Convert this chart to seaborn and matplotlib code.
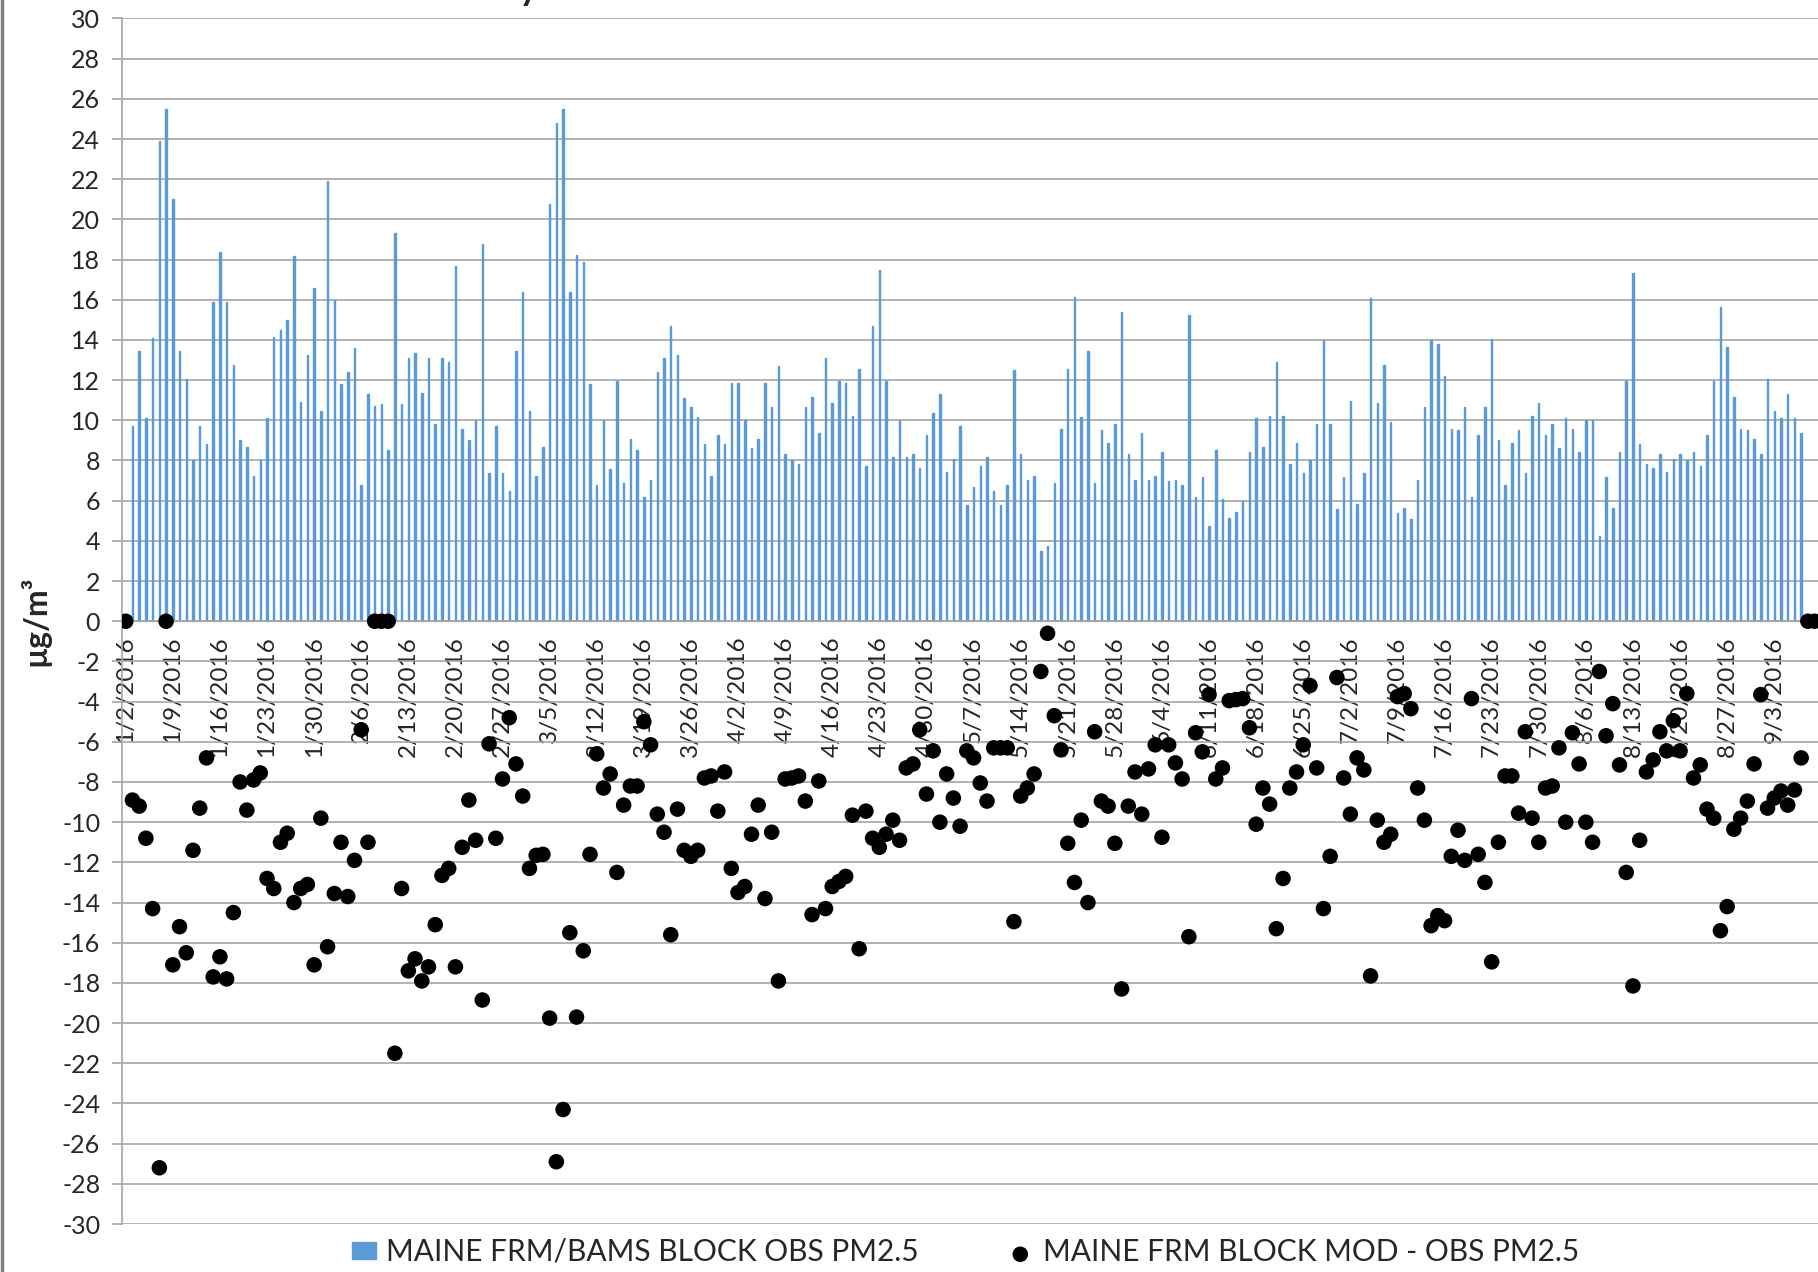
import numpy as np
import pandas as pd
import seaborn as sns
import matplotlib.pyplot as plt
from matplotlib.lines import Line2D

# daily values, day 0 = 1/2/2016
obs_pm25 = [
    np.nan, 9.7, 13.45, 10.1, 14.1, 23.9, 25.5, 21.0, 13.45, 12.05,
    8.0, 9.7, 8.8, 15.9, 18.4, 15.9, 12.75, 9.0, 8.65, 7.25,
    8.0, 10.1, 14.15, 14.5, 15.0, 18.2, 10.9, 13.25, 16.6, 10.45,
    21.9, 16.0, 11.8, 12.4, 13.6, 6.8, 11.3, 10.7, 10.8, 8.5,
    19.3, 10.8, 13.1, 13.35, 11.35, 13.1, 9.8, 13.1, 12.9, 17.7,
    9.55, 9.0, 10.0, 18.75, 7.4, 9.7, 7.4, 6.5, 13.45, 16.4,
    10.45, 7.25, 8.65, 20.75, 24.8, 25.5, 16.4, 18.25, 17.9, 11.8,
    6.8, 10.0, 7.6, 11.95, 6.9, 9.05, 8.5, 6.2, 7.05, 12.4,
    13.1, 14.7, 13.25, 11.1, 10.65, 10.15, 8.8, 7.25, 9.25, 8.8,
    11.85, 11.85, 10.0, 8.6, 9.05, 11.85, 10.65, 12.7, 8.3, 8.0,
    7.85, 10.65, 11.15, 9.35, 13.1, 10.85, 11.95, 11.85, 10.2, 12.55,
    7.75, 14.7, 17.5, 11.95, 8.15, 10.0, 8.15, 8.3, 7.65, 9.25,
    10.35, 11.3, 7.45, 8.05, 9.7, 5.8, 6.7, 7.75, 8.15, 6.5,
    5.8, 6.8, 12.5, 8.3, 7.05, 7.25, 3.5, 3.75, 6.9, 9.55,
    12.55, 16.15, 10.15, 13.45, 6.9, 9.5, 8.85, 9.8, 15.4, 8.3,
    7.05, 9.35, 7.05, 7.25, 8.4, 7.0, 7.05, 6.8, 15.25, 6.2,
    7.2, 4.75, 8.5, 6.1, 5.15, 5.45, 6.0, 8.4, 10.1, 8.65,
    10.2, 12.9, 10.2, 7.85, 8.85, 7.4, 8.0, 9.8, 14.0, 9.8,
    5.6, 7.2, 10.95, 5.85, 7.4, 16.1, 10.85, 12.75, 9.9, 5.4,
    5.65, 5.1, 7.05, 10.65, 14.0, 13.8, 12.2, 9.55, 9.5, 10.65,
    6.2, 9.25, 10.65, 14.05, 9.0, 6.8, 8.85, 9.5, 7.4, 10.2,
    10.85, 9.25, 9.8, 8.6, 10.1, 9.55, 8.4, 10.0, 10.0, 4.25,
    7.2, 5.65, 8.4, 11.95, 17.35, 8.8, 7.85, 7.65, 8.3, 7.45,
    8.05, 8.3, 8.0, 8.4, 7.75, 9.25, 11.95, 15.65, 13.65, 11.15,
    9.55, 9.5, 9.05, 8.3, 12.05, 10.45, 10.1, 11.3, 10.1, 9.35,
    np.nan, np.nan,
]

mod_minus_obs = [
    0, -8.9, -9.2, -10.8, -14.3, -27.2, 0, -17.1, -15.2, -16.5,
    -11.4, -9.3, -6.8, -17.7, -16.7, -17.8, -14.5, -8.0, -9.4, -7.9,
    -7.55, -12.8, -13.3, -11.0, -10.55, -14.0, -13.3, -13.1, -17.1, -9.8,
    -16.2, -13.55, -11.0, -13.7, -11.9, -5.4, -11.0, 0, 0, 0,
    -21.5, -13.3, -17.4, -16.8, -17.9, -17.2, -15.1, -12.65, -12.3, -17.2,
    -11.25, -8.9, -10.9, -18.85, -6.1, -10.8, -7.85, -4.8, -7.1, -8.7,
    -12.3, -11.65, -11.6, -19.75, -26.9, -24.3, -15.5, -19.7, -16.4, -11.6,
    -6.6, -8.3, -7.6, -12.5, -9.15, -8.2, -8.2, -5.0, -6.15, -9.6,
    -10.5, -15.6, -9.35, -11.4, -11.7, -11.4, -7.8, -7.7, -9.45, -7.5,
    -12.3, -13.5, -13.2, -10.6, -9.15, -13.8, -10.5, -17.9, -7.85, -7.8,
    -7.7, -8.95, -14.6, -7.95, -14.3, -13.2, -12.95, -12.7, -9.65, -16.3,
    -9.45, -10.8, -11.25, -10.6, -9.9, -10.9, -7.3, -7.1, -5.4, -8.6,
    -6.45, -10.0, -7.6, -8.8, -10.2, -6.45, -6.8, -8.05, -8.95, -6.3,
    -6.3, -6.3, -14.95, -8.7, -8.3, -7.6, -2.5, -0.6, -4.7, -6.4,
    -11.05, -13.0, -9.9, -14.0, -5.5, -8.95, -9.2, -11.05, -18.3, -9.2,
    -7.5, -9.6, -7.35, -6.15, -10.75, -6.15, -7.05, -7.85, -15.7, -5.55,
    -6.5, -3.65, -7.85, -7.3, -3.95, -3.9, -3.85, -5.3, -10.1, -8.3,
    -9.1, -15.3, -12.8, -8.3, -7.5, -6.15, -3.2, -7.3, -14.3, -11.7,
    -2.8, -7.8, -9.6, -6.8, -7.4, -17.65, -9.9, -11.0, -10.6, -3.75,
    -3.6, -4.35, -8.3, -9.9, -15.15, -14.65, -14.9, -11.7, -10.4, -11.9,
    -3.85, -11.6, -13.0, -16.95, -11.0, -7.7, -7.7, -9.55, -5.5, -9.8,
    -11.0, -8.3, -8.2, -6.3, -10.0, -5.55, -7.1, -10.0, -11.0, -2.5,
    -5.7, -4.1, -7.15, -12.5, -18.15, -10.9, -7.5, -6.9, -5.5, -6.45,
    -4.95, -6.45, -3.6, -7.8, -7.15, -9.35, -9.8, -15.4, -14.2, -10.35,
    -9.8, -8.95, -7.1, -3.65, -9.3, -8.8, -8.45, -9.15, -8.4, -6.8,
    0, 0,
]

dates = pd.date_range('2016-01-02', periods=len(obs_pm25), freq='D')
date_labels = [f'{d.month}/{d.day}/{d.year}' for d in dates]

df = pd.DataFrame({'day': np.arange(len(dates)), 'obs': obs_pm25,
                   'diff': mod_minus_obs})

sns.set_style('white')
plt.rcParams['font.family'] = ['Lato', 'DejaVu Sans']
plt.rcParams['axes.unicode_minus'] = False

fig = plt.figure(figsize=(18.18, 12.72), dpi=100)
ax = fig.add_axes([0.0673, 0.0377, 0.9327, 0.9478])

sns.barplot(data=df.dropna(subset=['obs']), x='day', y='obs', native_scale=True,
            width=0.22, color='#5B9BD5', saturation=1, errorbar=None,
            edgecolor='#5B9BD5', linewidth=1.0,
            label='MAINE FRM/BAMS BLOCK OBS PM2.5', ax=ax)
sns.scatterplot(data=df, x='day', y='diff', color='black', s=125,
                edgecolor='none', label='MAINE FRM BLOCK MOD - OBS PM2.5',
                zorder=3, ax=ax)

ax.set_xlim(-0.5, 251.46)
ax.set_ylim(-30, 30)
ax.set_yticks(np.arange(-30, 31, 2))
ax.set_axisbelow(True)
ax.yaxis.grid(True, color='#A6A6A6', lw=1.2)
ax.xaxis.grid(False)

for s in ['top', 'right']:
    ax.spines[s].set_visible(False)
ax.spines['left'].set_color('#A6A6A6')
ax.spines['left'].set_linewidth(1.2)
ax.spines['bottom'].set_position(('data', 0))
ax.spines['bottom'].set_color('#A6A6A6')
ax.spines['bottom'].set_linewidth(1.2)

tick_pos = np.arange(0, len(dates), 7)
ax.set_xticks(tick_pos)
ax.set_xticklabels([date_labels[i] for i in tick_pos], rotation=90, fontsize=17.5)
ax.set_xticks(np.arange(-0.5, len(dates), 7), minor=True)
ax.tick_params(axis='x', which='major', length=0, pad=11)
ax.tick_params(axis='x', which='minor', length=7, width=1.2, color='#A6A6A6',
               direction='out')
ax.tick_params(axis='y', length=7, width=1.2, color='#A6A6A6', direction='out',
               labelsize=18, pad=9, left=True)
ax.set_xlabel('')
ax.set_ylabel('µg/m³', fontsize=23, fontweight='bold', labelpad=8)

handles, labels = ax.get_legend_handles_labels()
ax.get_legend().remove()
order = [labels.index('MAINE FRM/BAMS BLOCK OBS PM2.5'),
         labels.index('MAINE FRM BLOCK MOD - OBS PM2.5')]
fig.legend([handles[i] for i in order], [labels[i] for i in order],
           loc='center', bbox_to_anchor=(0.531, 0.016),
           ncol=2, frameon=False, fontsize=21.5, handlelength=0.8,
           handleheight=0.5, handletextpad=0.35, columnspacing=3.0,
           markerscale=1.0)

# cut-off title at the top and chart frame on the left
fig.text(0.296, 1.0, 'Daily', fontsize=26, fontweight='bold', ha='right',
         va='baseline')
fig.add_artist(Line2D([0.001, 0.001], [0, 1], transform=fig.transFigure,
                      color='#808080', lw=2.5))

plt.savefig('out.png', dpi=100)
